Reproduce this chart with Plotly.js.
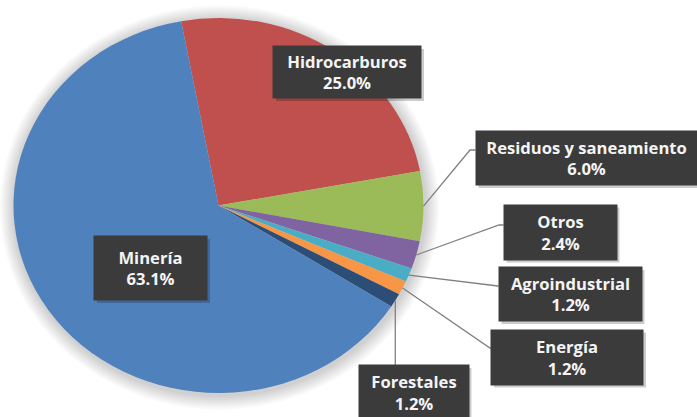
<!DOCTYPE html>
<html>
<head>
<meta charset="utf-8">
<script src="https://cdn.plot.ly/plotly-3.0.1.min.js"></script>
<style>
html,body{margin:0;padding:0;background:#fff;}
#chart{width:697px;height:417px;}
</style>
</head>
<body>
<div id="chart"></div>
<script>
// ---- data ----
const labels = ['Hidrocarburos', 'Residuos y saneamiento', 'Otros', 'Agroindustrial', 'Energía', 'Forestales', 'Minería'];
const values = [25.0, 6.0, 2.4, 1.2, 1.2, 1.2, 63.1];
const colors = ['#C0504D', '#9BBB59', '#8064A2', '#4BACC6', '#F79646', '#2C4D75', '#4F81BD'];

// ---- layout geometry (pixels) ----
const W = 697, H = 417;
const cx = 218.5, cy = 205.5, Ry = 187.5, Rx = 205;
const rotation = -10.5;
// label box centers & sizes
const boxes = [
  {x: 347, y: 72, w: 148, h: 52},
  {x: 586, y: 158, w: 221, h: 54},
  {x: 560, y: 232, w: 113, h: 55},
  {x: 570, y: 294, w: 143, h: 54},
  {x: 567, y: 357, w: 152, h: 55},
  {x: 413.5, y: 392.5, w: 110, h: 55},
  {x: 150.5, y: 268, w: 113, h: 64}
];
// leader elbows (null = label inside slice)
const elbows = [null, [470, 150], [499, 225], [498, 286], [490, 348], 'v', null];

const px = x => x / W;
const py = y => 1 - y / H;

const total = values.reduce((a, b) => a + b, 0);
let acc = rotation;
const mids = values.map(v => { const a = acc + v / total * 180; acc += v / total * 360; return a; });

const shapes = [];
// soft glow behind the pie
for (let k = 8; k >= 1; k--) {
  shapes.push({type: 'circle', xref: 'paper', yref: 'paper', layer: 'below',
    x0: px(cx - Rx - k * 1.8 + 1), x1: px(cx + Rx + k * 1.8 + 1),
    y0: py(cy + Ry + k * 1.8 + 2), y1: py(cy - Ry - k * 1.8 + 2),
    fillcolor: 'rgba(0,0,0,0.022)', line: {width: 0}});
}
const annotations = [];
labels.forEach((lab, i) => {
  const b = boxes[i];
  // shadow
  shapes.push({type: 'rect', xref: 'paper', yref: 'paper', layer: 'above',
    x0: px(b.x - b.w / 2 + 3), x1: px(b.x + b.w / 2 + 3), y0: py(b.y + b.h / 2 + 3), y1: py(b.y - b.h / 2 + 3),
    fillcolor: 'rgba(0,0,0,0.2)', line: {width: 0}});
  const e = elbows[i];
  if (e) {
    const ang = mids[i] * Math.PI / 180;
    const sx = cx + Rx * Math.sin(ang), sy = cy - Ry * Math.cos(ang);
    let path;
    if (e === 'v') {
      path = `M${px(sx)},${py(sy)} L${px(sx)},${py(b.y - b.h / 2)}`;
    } else {
      path = `M${px(sx)},${py(sy)} L${px(e[0])},${py(e[1])} L${px(b.x - b.w / 2)},${py(e[1])}`;
    }
    shapes.push({type: 'path', xref: 'paper', yref: 'paper', layer: 'above', path: path,
      line: {color: '#808080', width: 1.3}});
  }
  annotations.push({
    xref: 'paper', yref: 'paper', x: px(b.x), y: py(b.y), xanchor: 'center', yanchor: 'middle',
    width: b.w, height: b.h, borderpad: 0, bgcolor: '#3B3B3B', showarrow: false,
    text: '<b>' + lab + '<br>' + values[i].toFixed(1) + '%</b>',
    font: {family: '"Open Sans", sans-serif', size: 16.6, color: '#F4F4F4'},
    align: 'center'
  });
});

const trace = {
  type: 'pie',
  labels: labels,
  values: values,
  sort: false,
  direction: 'clockwise',
  rotation: rotation,
  marker: {colors: colors, line: {width: 0}},
  textinfo: 'none',
  hoverinfo: 'none',
  domain: {x: [px(cx - Ry), px(cx + Ry)], y: [py(cy + Ry), py(cy - Ry)]},
  showlegend: false
};

const layout = {
  width: W, height: H,
  margin: {l: 0, r: 0, t: 0, b: 0},
  paper_bgcolor: '#FFFFFF',
  showlegend: false,
  shapes: shapes,
  annotations: annotations
};

Plotly.newPlot('chart', [trace], layout, {displayModeBar: false, staticPlot: true}).then(gd => {
  // the reference pie is slightly stretched horizontally (an ellipse)
  const s = Rx / Ry;
  gd.querySelectorAll('.pielayer').forEach(g => {
    g.setAttribute('transform', `translate(${cx},0) scale(${s},1) translate(${-cx},0)`);
  });
});
</script>
</body>
</html>
